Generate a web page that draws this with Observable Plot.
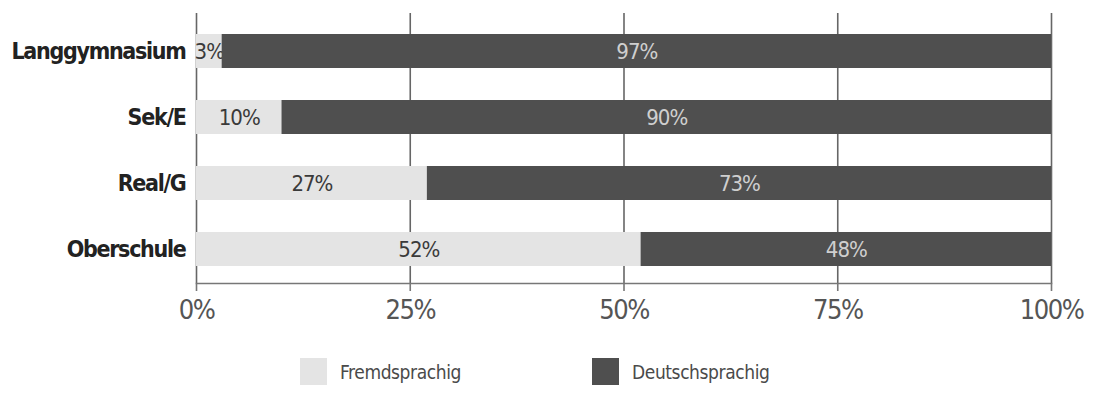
<!DOCTYPE html>
<html>
<head>
<meta charset="utf-8">
<script src="https://cdn.jsdelivr.net/npm/d3@7"></script>
<script src="https://cdn.jsdelivr.net/npm/@observablehq/plot@0.6"></script>
<style>
  html, body { margin: 0; padding: 0; background: #fff; }
  #chart { width: 1095px; }
  #chart g[aria-label="y-axis tick label"] { letter-spacing: -1.3px; }
  #chart g[aria-label="x-axis tick label"] { letter-spacing: -1.5px; }
  #chart g.bar-label { letter-spacing: -1px; }
  .legend { position: relative; height: 49px; width: 1095px;
    font-family: "Liberation Sans Narrow", "DejaVu Sans Condensed", "Arial Narrow", sans-serif;
    font-size: 19px; letter-spacing: -0.4px; color: #4a4a4a; }
  .legend .item { position: absolute; top: 13px; display: flex; align-items: center; }
  .legend .sw { width: 27px; height: 27px; margin-right: 13px; }
</style>
</head>
<body>
<div id="chart"></div>
<script>
// Schulstufen und Anteil der Sprachgruppen (in Prozent)
const categories = ["Langgymnasium", "Sek/E", "Real/G", "Oberschule"];
const fremdsprachig = [3, 10, 27, 52];
const deutschsprachig = [97, 90, 73, 48];
const groups = ["Fremdsprachig", "Deutschsprachig"];
const groupColors = ["#e4e4e4", "#4f4f4f"];
const labelColors = ["#3a3a3a", "#cfcfcf"];
const xTicks = [0, 25, 50, 75, 100];
const tickLabels = ["0%", "25%", "50%", "75%", "100%"];

// one row per segment, with its start and end along the 0–100 axis
const rows = [];
categories.forEach((c, i) => {
  const vals = [fremdsprachig[i], deutschsprachig[i]];
  let start = 0;
  vals.forEach((v, g) => {
    rows.push({category: c, group: groups[g], value: v, start, end: start + v});
    start += v;
  });
});

const narrow = `"Liberation Sans Narrow", "DejaVu Sans Condensed", "Arial Narrow", sans-serif`;
const byGroup = g => rows.filter(d => d.group === g);

const barLabel = (g) => Plot.text(byGroup(g), {
  x: d => (d.start + d.end) / 2,
  y: "category",
  text: d => `${d.value}%`,
  fill: labelColors[groups.indexOf(g)],
  fontSize: 22,
  fontFamily: narrow,
  className: "bar-label"
});

const chart = Plot.plot({
  width: 1095,
  height: 345,
  marginLeft: 196,
  marginRight: 44,
  marginTop: 13,
  marginBottom: 62,
  x: {domain: [0, 100]},
  y: {domain: categories, paddingInner: 0.48, paddingOuter: 0.276, align: 0.556},
  color: {domain: groups, range: groupColors},
  marks: [
    Plot.ruleX(xTicks, {stroke: "#666", strokeWidth: 1.6}),
    Plot.barX(byGroup(groups[0]), {x1: "start", x2: "end", y: "category", fill: "group"}),
    barLabel(groups[0]),
    Plot.barX(byGroup(groups[1]), {x1: "start", x2: "end", y: "category", fill: "group"}),
    barLabel(groups[1]),
    Plot.frame({anchor: "bottom", stroke: "#777", strokeWidth: 1.6}),
    Plot.axisX({
      ticks: xTicks,
      tickFormat: d => tickLabels[xTicks.indexOf(d)],
      tickSize: 8,
      tickPadding: 8,
      stroke: "#777",
      strokeWidth: 1.6,
      fill: "#555",
      fontSize: 27,
      fontFamily: narrow,
      label: null
    }),
    Plot.axisY({
      tickSize: 0,
      tickPadding: 11,
      fill: "#222",
      fontSize: 23,
      fontWeight: "bold",
      fontFamily: narrow,
      label: null
    })
  ]
});
document.getElementById("chart").append(chart);

// legend below the chart
const legend = document.createElement("div");
legend.className = "legend";
const lefts = [300, 592];
groups.forEach((g, i) => {
  const item = document.createElement("div");
  item.className = "item";
  item.style.left = lefts[i] + "px";
  const sw = document.createElement("span");
  sw.className = "sw";
  sw.style.background = groupColors[i];
  const label = document.createElement("span");
  label.textContent = g;
  item.append(sw, label);
  legend.append(item);
});
document.body.append(legend);
</script>
</body>
</html>
